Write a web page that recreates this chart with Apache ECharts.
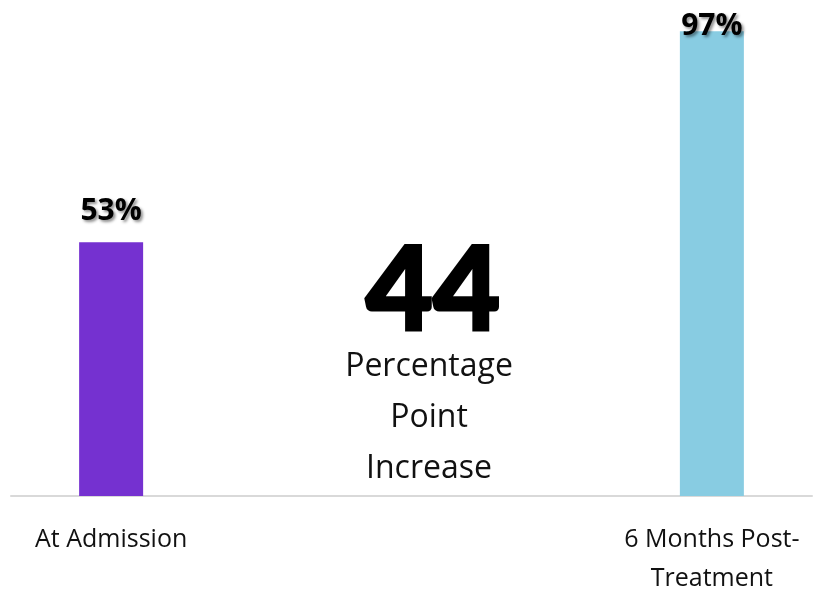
<!DOCTYPE html>
<html>
<head>
<meta charset="utf-8">
<script src="https://cdn.jsdelivr.net/npm/echarts@6/dist/echarts.min.js"></script>
<style>
  html, body { margin: 0; padding: 0; background: #ffffff; }
  #chart { width: 817px; height: 590px; }
</style>
</head>
<body>
<div id="chart"></div>
<script>
// Share of patients at each point in time (percent)
const categories = ['At Admission', '6 Months Post-Treatment'];
const values = [53, 97];
const barColors = ['#7531D0', '#88CCE2'];
const captionLines = ['Percentage', 'Point', 'Increase'];

// The two bars sit in the outer slots of a four-slot axis, leaving room
// for the central annotation between them.
const slotNames = [categories[0], '', '', categories[1]];
const slotData = [
  { value: values[0], itemStyle: { color: barColors[0] } },
  '-',
  '-',
  { value: values[1], itemStyle: { color: barColors[1] },
    label: { offset: [0, 26] } }
];

const increase = values[1] - values[0];

const chart = echarts.init(document.getElementById('chart'));
chart.setOption({
  animation: false,
  backgroundColor: '#ffffff',
  grid: {
    left: 11, right: 5, top: 17, bottom: 94,
    containLabel: false,
    outerBoundsMode: 'none'
  },
  xAxis: {
    type: 'category',
    data: slotNames,
    axisLine: { show: true, lineStyle: { color: '#D9D9D9', width: 2 } },
    axisTick: { show: false },
    axisLabel: {
      interval: 0,
      margin: 24,
      color: '#111111',
      fontFamily: 'Open Sans',
      fontSize: 25,
      lineHeight: 39,
      formatter: v => v.replace('Post-', 'Post-\n')
    }
  },
  yAxis: {
    type: 'value',
    min: 0,
    max: 100,
    show: false,
    splitLine: { show: false }
  },
  series: [{
    type: 'bar',
    data: slotData,
    barWidth: 64,
    label: {
      show: true,
      position: 'top',
      distance: 16,
      formatter: p => p.value + '%',
      color: '#000000',
      fontFamily: 'Open Sans',
      fontWeight: 'bold',
      fontSize: 30,
      textShadowColor: 'rgba(0,0,0,0.45)',
      textShadowBlur: 3,
      textShadowOffsetX: 2,
      textShadowOffsetY: 2
    }
  }],
  graphic: [
    {
      type: 'text',
      x: 433,
      y: 293,
      style: {
        text: String(increase),
        align: 'center',
        verticalAlign: 'middle',
        fill: '#000000',
        stroke: '#000000',
        lineWidth: 3,
        font: '900 116px Lato, "Open Sans"',
        shadowColor: 'rgba(0,0,0,0.45)',
        shadowBlur: 5,
        shadowOffsetX: 3,
        shadowOffsetY: 3
      }
    },
    ...captionLines.map((line, i) => ({
      type: 'text',
      x: 429,
      y: 367 + i * 51,
      style: {
        text: line,
        align: 'center',
        verticalAlign: 'middle',
        fill: '#111111',
        font: '32px "Open Sans"'
      }
    }))
  ]
});
</script>
</body>
</html>
